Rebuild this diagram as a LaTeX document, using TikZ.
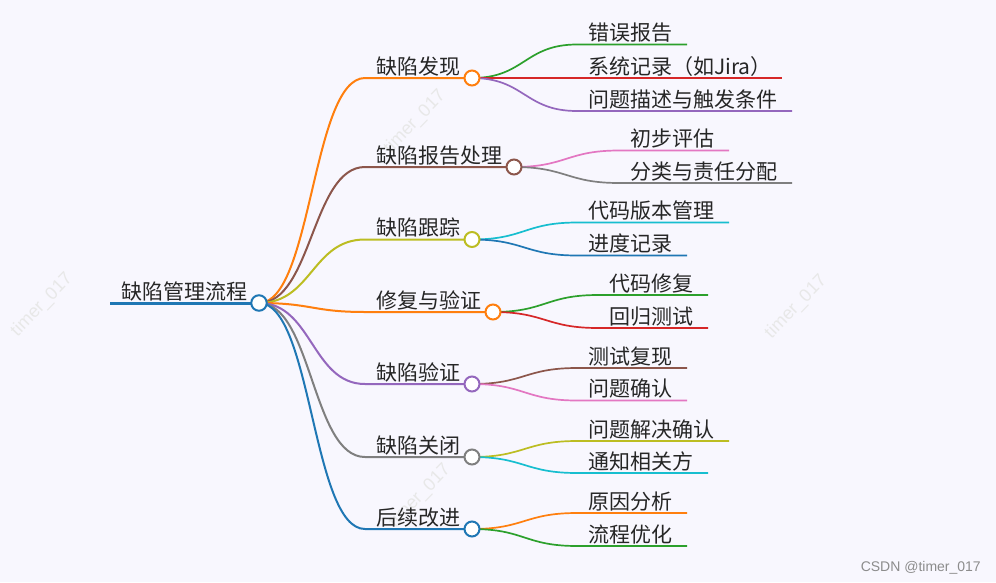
\documentclass[tikz,border=0pt]{standalone}
\usepackage{fontspec}
\setmainfont{Liberation Sans}
\newfontfamily\cjk{Noto Sans CJK SC}
\definecolor{bgc}{RGB}{248,247,254}
\definecolor{cblue}{HTML}{1F77B4}
\definecolor{corange}{HTML}{FF7F0E}
\definecolor{cgreen}{HTML}{2CA02C}
\definecolor{cred}{HTML}{D62728}
\definecolor{cpurple}{HTML}{9467BD}
\definecolor{cbrown}{HTML}{8C564B}
\definecolor{cpink}{HTML}{E377C2}
\definecolor{cgray}{HTML}{7F7F7F}
\definecolor{colive}{HTML}{BCBD22}
\definecolor{ccyan}{HTML}{17BECF}
\definecolor{txt}{HTML}{262626}
\tikzset{
  lbl/.style={anchor=base west, inner sep=0pt, font=\cjk\fontsize{21}{21}\selectfont, text=txt},
  rootline/.style={line width=3pt},
  lineone/.style={line width=2pt},
  linetwo/.style={line width=1.7pt},
  knob/.style={circle, draw, fill=white, line width=2pt, minimum size=15pt, inner sep=0pt},
  rootknob/.style={circle, draw, fill=white, line width=2pt, minimum size=15.5pt, inner sep=0pt},
  wm/.style={inner sep=0pt, rotate=46, text=black!9, font=\fontsize{18}{18}\selectfont},
}
\begin{document}
\begin{tikzpicture}[x=1pt,y=-1pt]
\fill[bgc] (0,0) rectangle (996,582);
\useasboundingbox (0,0) rectangle (996,582);
% watermarks
\node[wm] (w1) at (42,305) {timer\_017};
\node[wm] (w2) at (415,122) {timer\_017};
\node[wm] (w3) at (420,496) {timer\_017};
\node[wm] (w4) at (796,307) {timer\_017};
% root
\coordinate (r0) at (110,303);
\coordinate (r) at (259,303);
% level 1 starts and circle centres
\coordinate (a1s) at (365,78);  \coordinate (a1) at (472,78);
\coordinate (a2s) at (365,167); \coordinate (a2) at (514,167);
\coordinate (a3s) at (365,239.5); \coordinate (a3) at (472,239.5);
\coordinate (a4s) at (365,312); \coordinate (a4) at (493,312);
\coordinate (a5s) at (365,384); \coordinate (a5) at (472,384);
\coordinate (a6s) at (365,457); \coordinate (a6) at (472,457);
\coordinate (a7s) at (365,529); \coordinate (a7) at (472,529);
% level 2 starts and ends
\coordinate (b11s) at (577,44.5)  ; \coordinate (b11e) at (687,44.5);
\coordinate (b12s) at (577,78)  ; \coordinate (b12e) at (782,78);
\coordinate (b13s) at (577,111) ; \coordinate (b13e) at (792,111);
\coordinate (b21s) at (619,150.5) ; \coordinate (b21e) at (729,150.5);
\coordinate (b22s) at (619,183) ; \coordinate (b22e) at (792,183);
\coordinate (b31s) at (577,222.5) ; \coordinate (b31e) at (729,222.5);
\coordinate (b32s) at (577,255.5) ; \coordinate (b32e) at (687,255.5);
\coordinate (b41s) at (598,295) ; \coordinate (b41e) at (708,295);
\coordinate (b42s) at (598,328) ; \coordinate (b42e) at (708,328);
\coordinate (b51s) at (577,368) ; \coordinate (b51e) at (687,368);
\coordinate (b52s) at (577,400.5) ; \coordinate (b52e) at (687,400.5);
\coordinate (b61s) at (577,441) ; \coordinate (b61e) at (729,441);
\coordinate (b62s) at (577,473) ; \coordinate (b62e) at (708,473);
\coordinate (b71s) at (577,513) ; \coordinate (b71e) at (687,513);
\coordinate (b72s) at (577,546) ; \coordinate (b72e) at (687,546);
% level 2 links
\draw[linetwo,cgreen]  (a1) .. controls +(52.5,0) and +(-52.5,0) .. (b11s) -- (b11e);
\draw[linetwo,cred]    (a1) .. controls +(52.5,0) and +(-52.5,0) .. (b12s) -- (b12e);
\draw[linetwo,cpurple] (a1) .. controls +(52.5,0) and +(-52.5,0) .. (b13s) -- (b13e);
\draw[linetwo,cpink]   (a2) .. controls +(52.5,0) and +(-52.5,0) .. (b21s) -- (b21e);
\draw[linetwo,cgray]   (a2) .. controls +(52.5,0) and +(-52.5,0) .. (b22s) -- (b22e);
\draw[linetwo,ccyan]   (a3) .. controls +(52.5,0) and +(-52.5,0) .. (b31s) -- (b31e);
\draw[linetwo,cblue]   (a3) .. controls +(52.5,0) and +(-52.5,0) .. (b32s) -- (b32e);
\draw[linetwo,cgreen]  (a4) .. controls +(52.5,0) and +(-52.5,0) .. (b41s) -- (b41e);
\draw[linetwo,cred]    (a4) .. controls +(52.5,0) and +(-52.5,0) .. (b42s) -- (b42e);
\draw[linetwo,cbrown]  (a5) .. controls +(52.5,0) and +(-52.5,0) .. (b51s) -- (b51e);
\draw[linetwo,cpink]   (a5) .. controls +(52.5,0) and +(-52.5,0) .. (b52s) -- (b52e);
\draw[linetwo,colive]  (a6) .. controls +(52.5,0) and +(-52.5,0) .. (b61s) -- (b61e);
\draw[linetwo,ccyan]   (a6) .. controls +(52.5,0) and +(-52.5,0) .. (b62s) -- (b62e);
\draw[linetwo,corange] (a7) .. controls +(52.5,0) and +(-52.5,0) .. (b71s) -- (b71e);
\draw[linetwo,cgreen]  (a7) .. controls +(52.5,0) and +(-52.5,0) .. (b72s) -- (b72e);
% level 1 links
\draw[lineone,corange] (r) .. controls +(53,0) and +(-53,0) .. (a1s) -- (a1);
\draw[lineone,cbrown]  (r) .. controls +(53,0) and +(-53,0) .. (a2s) -- (a2);
\draw[lineone,colive]  (r) .. controls +(53,0) and +(-53,0) .. (a3s) -- (a3);
\draw[lineone,corange] (r) .. controls +(53,0) and +(-53,0) .. (a4s) -- (a4);
\draw[lineone,cpurple] (r) .. controls +(53,0) and +(-53,0) .. (a5s) -- (a5);
\draw[lineone,cgray]   (r) .. controls +(53,0) and +(-53,0) .. (a6s) -- (a6);
\draw[lineone,cblue]   (r) .. controls +(53,0) and +(-53,0) .. (a7s) -- (a7);
% root line
\draw[rootline,cblue] (r0) -- (r);
% circles
\node[rootknob,draw=cblue] (rc) at (r) {};
\node[knob,draw=corange] (k1) at (a1) {};
\node[knob,draw=cbrown]  (k2) at (a2) {};
\node[knob,draw=colive]  (k3) at (a3) {};
\node[knob,draw=corange] (k4) at (a4) {};
\node[knob,draw=cpurple] (k5) at (a5) {};
\node[knob,draw=cgray]   (k6) at (a6) {};
\node[knob,draw=cblue]   (k7) at (a7) {};
% labels
\node[lbl] (t0) at (121,299) {缺陷管理流程};
\node[lbl] (t1) at (376,74) {缺陷发现};
\node[lbl] (t2) at (376,163) {缺陷报告处理};
\node[lbl] (t3) at (376,235.5) {缺陷跟踪};
\node[lbl] (t4) at (376,308) {修复与验证};
\node[lbl] (t5) at (376,380) {缺陷验证};
\node[lbl] (t6) at (376,453) {缺陷关闭};
\node[lbl] (t7) at (376,525) {后续改进};
\node[lbl] (u11) at (588,40.5) {错误报告};
\node[lbl] (u12) at (588,74) {系统记录（如Jira）};
\node[lbl] (u13) at (588,107) {问题描述与触发条件};
\node[lbl] (u21) at (630,146.5) {初步评估};
\node[lbl] (u22) at (630,179) {分类与责任分配};
\node[lbl] (u31) at (588,218.5) {代码版本管理};
\node[lbl] (u32) at (588,251.5) {进度记录};
\node[lbl] (u41) at (609,291) {代码修复};
\node[lbl] (u42) at (609,324) {回归测试};
\node[lbl] (u51) at (588,364) {测试复现};
\node[lbl] (u52) at (588,396.5) {问题确认};
\node[lbl] (u61) at (588,437) {问题解决确认};
\node[lbl] (u62) at (588,469) {通知相关方};
\node[lbl] (u71) at (588,509) {原因分析};
\node[lbl] (u72) at (588,542) {流程优化};
% footer
\node[anchor=base east, inner sep=0pt, text=black!45, font=\fontsize{14}{14}\selectfont] (csdn) at (981,571) {CSDN @timer\_017};
\end{tikzpicture}
\end{document}
